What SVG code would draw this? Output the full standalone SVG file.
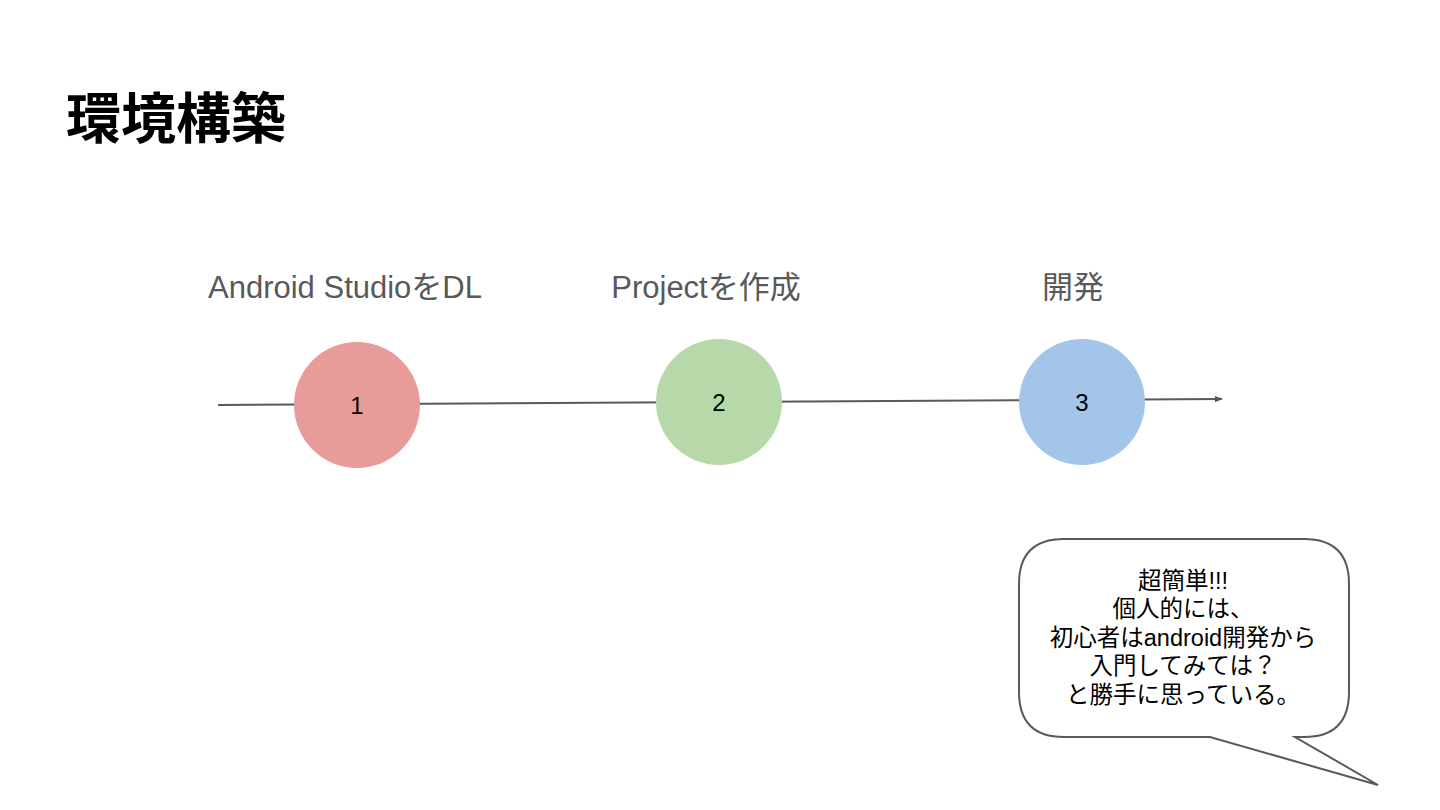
<svg xmlns="http://www.w3.org/2000/svg" width="1440" height="810" viewBox="0 0 1440 810">
<style>
.lbl{font-family:"Liberation Sans","Noto Sans CJK JP",sans-serif;font-size:31px;fill:#595959;text-anchor:middle}
.num{font-family:"Liberation Sans",sans-serif;font-size:24px;fill:#000;text-anchor:middle}
.call{font-family:"Liberation Sans","Noto Sans CJK JP",sans-serif;font-size:23.5px;fill:#000;text-anchor:middle}
</style>
<defs>
<marker id="arr" viewBox="0 0 10 10" refX="9" refY="5" markerWidth="4" markerHeight="4" orient="auto" markerUnits="strokeWidth"><path d="M0,1 L10,5 L0,9 z" fill="#595959"/></marker>
</defs>
<rect width="1440" height="810" fill="#fff"/>
<text x="66" y="138" font-family="'Noto Sans CJK JP',sans-serif" font-size="55" font-weight="bold" fill="#000">環境構築</text>
<g id="connectors">
<line x1="218" y1="405" x2="1222" y2="399" stroke="#595959" stroke-width="2" marker-end="url(#arr)"/>
</g>
<g id="node1">
<circle cx="357" cy="405" r="63" fill="#e89c9a"/>
<text x="357" y="414" class="num">1</text>
<text x="345" y="298" class="lbl">Android StudioをDL</text>
</g>
<g id="node2">
<circle cx="719" cy="402" r="63" fill="#b7d8a8"/>
<text x="719" y="411" class="num">2</text>
<text x="706" y="298" class="lbl">Projectを作成</text>
</g>
<g id="node3">
<circle cx="1082" cy="402" r="63" fill="#a2c5e9"/>
<text x="1082" y="411" class="num">3</text>
<text x="1073" y="298" class="lbl">開発</text>
</g>
<g id="callout">
<path d="M1064,539 H1304 Q1349,539 1349,584 V692 Q1349,737 1304,737 H1295 L1378,785 L1210,737 H1064 Q1019,737 1019,692 V584 Q1019,539 1064,539 Z" fill="#fff" stroke="#595959" stroke-width="2"/>
<text class="call"><tspan x="1183" y="589">超簡単!!!</tspan><tspan x="1183" y="617">個人的には、</tspan><tspan x="1183" y="646">初心者はandroid開発から</tspan><tspan x="1183" y="674">入門してみては？</tspan><tspan x="1183" y="703">と勝手に思っている。</tspan></text>
</g>
</svg>
